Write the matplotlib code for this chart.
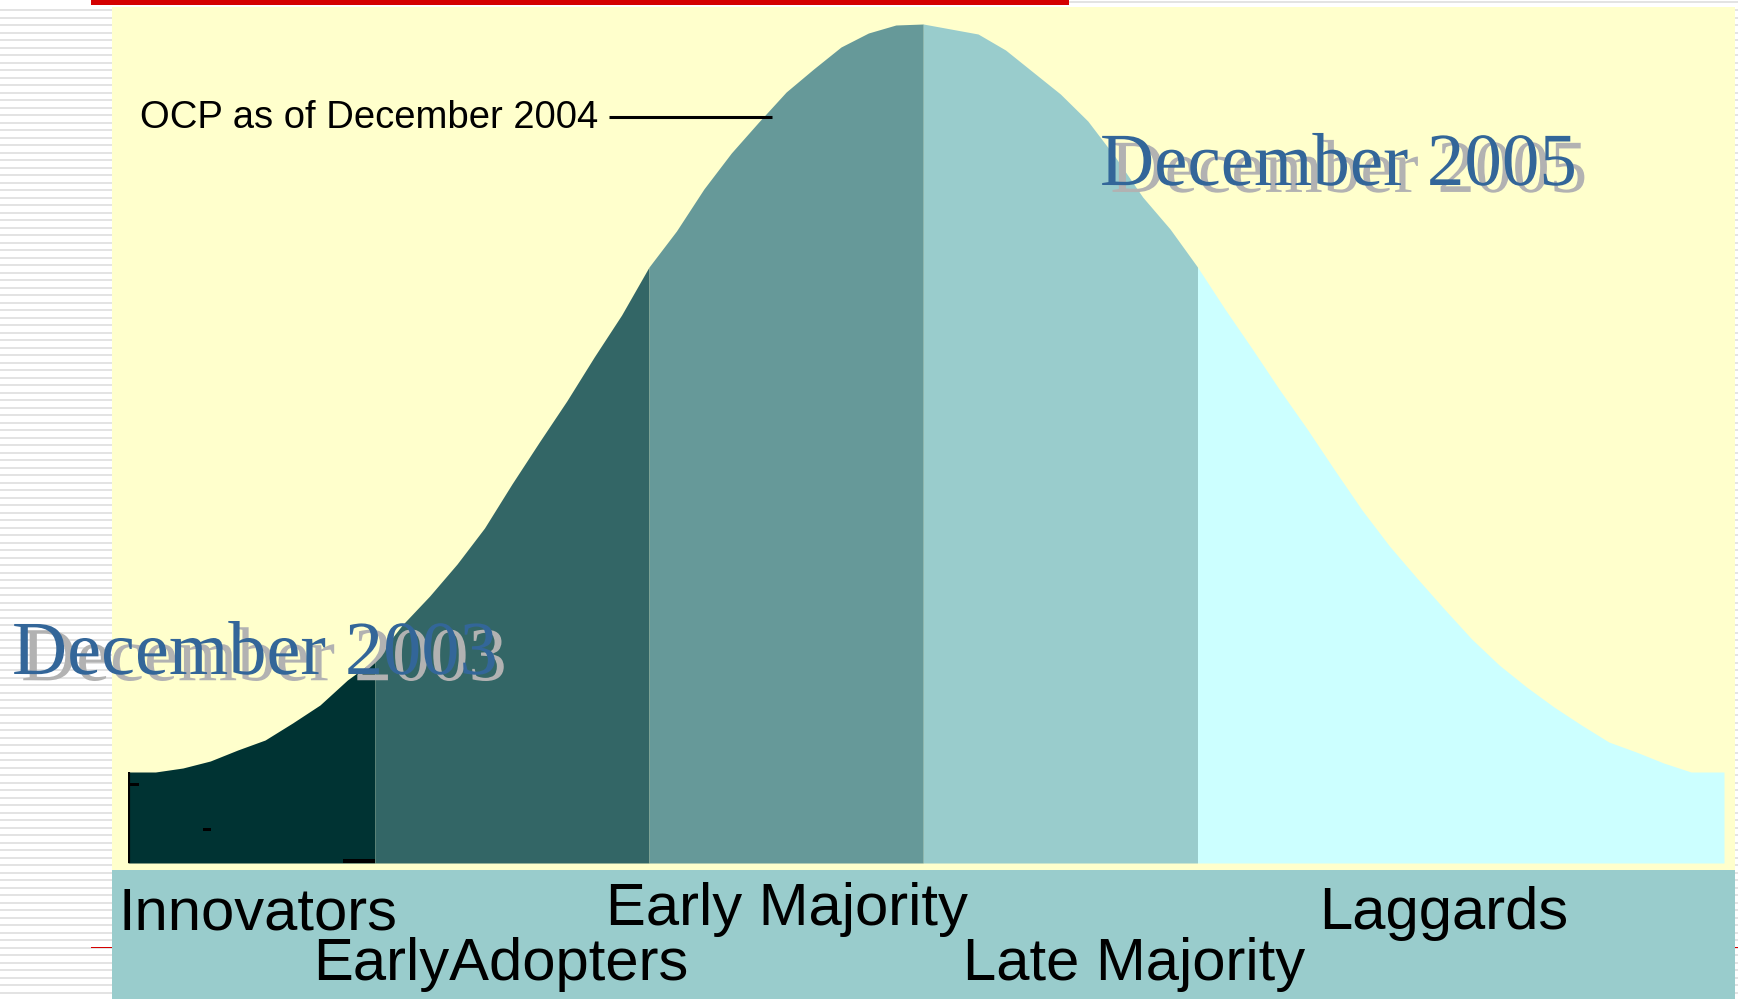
import matplotlib
matplotlib.use("Agg")
import matplotlib.pyplot as plt
from matplotlib.patches import Rectangle
import matplotlib.patheffects as pe
import numpy as np

# ---------------- data ----------------
# position along the adoption curve, in standard deviations from the mean
adoption_pos = [-2.9, -2.8, -2.7, -2.6, -2.5, -2.4, -2.3, -2.2, -2.1, -2.0,
                -1.9, -1.8, -1.7, -1.6, -1.5, -1.4, -1.3, -1.2, -1.1, -1.0,
                -0.9, -0.8, -0.7, -0.6, -0.5, -0.4, -0.3, -0.2, -0.1, 0.0,
                0.1, 0.2, 0.3, 0.4, 0.5, 0.6, 0.7, 0.8, 0.9, 1.0,
                1.1, 1.2, 1.3, 1.4, 1.5, 1.6, 1.7, 1.8, 1.9, 2.0,
                2.1, 2.2, 2.3, 2.4, 2.5, 2.6, 2.7, 2.8, 2.92]
# curve height (relative units, peak = 839)
adoption_height = [91, 91, 95, 102, 113, 123, 140, 158, 183, 203,
                   238, 267, 299, 335, 379, 421, 462, 506, 548, 596,
                   632, 674, 710, 741, 771, 794, 816, 830, 838, 839,
                   834, 829, 813, 791, 769, 742, 706, 666, 634, 596,
                   554, 514, 473, 434, 393, 353, 317, 285, 254, 224,
                   198, 176, 156, 138, 121, 111, 100, 91, 91]

segment_names = ["Innovators", "EarlyAdopters", "Early Majority", "Late Majority", "Laggards"]
segment_bounds = [-2.9, -2.0, -1.0, 0.0, 1.0, 2.92]
segment_colors = ["#003333", "#336666", "#669999", "#99CCCC", "#CCFFFF"]

title_2003 = "December 2003"
title_2005 = "December 2005"
ocp_label = "OCP as of December 2004"

W, H = 1738, 999
fig = plt.figure(figsize=(W / 100, H / 100), dpi=100)
fig.patch.set_facecolor("white")

# ---------------- background decoration (pixel coordinates) ----------------
bg = fig.add_axes([0, 0, 1, 1], zorder=0)
bg.set_xlim(0, W)
bg.set_ylim(H, 0)
bg.axis("off")

# striped slide margins
for y in np.arange(1.5, H, 7.5):
    bg.add_patch(Rectangle((0, y), 112, 2.2, color="#E3E3E3", lw=0))
    bg.add_patch(Rectangle((1735, y), 3, 2.2, color="#E3E3E3", lw=0))
bg.add_patch(Rectangle((0, 0), W, 7, color="white", lw=0))
bg.add_patch(Rectangle((1069, 1.2), W - 1069, 2.2, color="#E3E3E3", lw=0))
bg.add_patch(Rectangle((91, 0), 978, 4.5, color="#D40000", lw=0))
bg.add_patch(Rectangle((91, 946.5), 21, 1.5, color="#D40000", lw=0))
bg.add_patch(Rectangle((1735, 946.5), 3, 1.5, color="#D40000", lw=0))

# yellow panel and bottom band
bg.add_patch(Rectangle((112, 7), 1623, 863, color="#FFFFCC", lw=0))
bg.add_patch(Rectangle((112, 870), 1623, H - 870, color="#99CCCC", lw=0))

# ---------------- the adoption curve ----------------
x0, x1 = 128, 1724
ybot, ytop = 863, 24
ax = fig.add_axes([x0 / W, (H - ybot) / H, (x1 - x0) / W, (ybot - ytop) / H], zorder=1)
ax.patch.set_alpha(0)
ax.set_xlim(adoption_pos[0], adoption_pos[-1])
ax.set_ylim(0, max(adoption_height))
ax.axis("off")

xs = np.array(adoption_pos)
hs = np.array(adoption_height)
for i, col in enumerate(segment_colors):
    lo, hi = segment_bounds[i], segment_bounds[i + 1]
    m = (xs >= lo - 1e-9) & (xs <= hi + 1e-9)
    ax.fill_between(xs[m], 0, hs[m], color=col, lw=0, zorder=2 + i * 0.01)

# black axis remnant on the left
ax.vlines(adoption_pos[0], 0, adoption_height[0], color="black", lw=3.0, zorder=5)

# ---------------- overlay texts ----------------
top = fig.add_axes([0, 0, 1, 1], zorder=3)
top.patch.set_alpha(0)
top.set_xlim(0, W)
top.set_ylim(H, 0)
top.axis("off")

top.add_patch(Rectangle((130, 783), 9, 3, color="black", lw=0))
top.add_patch(Rectangle((203, 828), 8, 3, color="black", lw=0))
top.add_patch(Rectangle((343, 859), 32, 4, color="black", lw=0))

label_font = ["Liberation Sans", "DejaVu Sans"]
label_pos = [(118, 929), (313, 980), (606, 925), (963, 980), (1319, 929)]
for name, (lx, ly) in zip(segment_names, label_pos):
    top.text(lx, ly, name, fontsize=43, family=label_font, color="black",
             ha="left", va="baseline")

top.text(140, 128, ocp_label, fontsize=27.5,
         family=["Liberation Sans", "DejaVu Sans"], color="black",
         ha="left", va="baseline")
top.plot([609, 772], [117, 117], color="black", lw=2.2, solid_capstyle="butt")

serif = ["Liberation Serif", "DejaVu Serif"]
for txt, (tx, ty), fs, (dx, dy) in [(title_2003, (12, 674), 55, (6.5, -4.5)),
                                    (title_2005, (1100, 185), 54, (7.5, -5.0))]:
    top.text(tx, ty, txt, fontsize=fs, family=serif, color="#336699",
             ha="left", va="baseline",
             path_effects=[pe.SimplePatchShadow(offset=(dx, dy),
                                                shadow_rgbFace="#B2B2B2",
                                                alpha=1.0),
                           pe.Normal()])

fig.savefig("out.png", dpi=100)
